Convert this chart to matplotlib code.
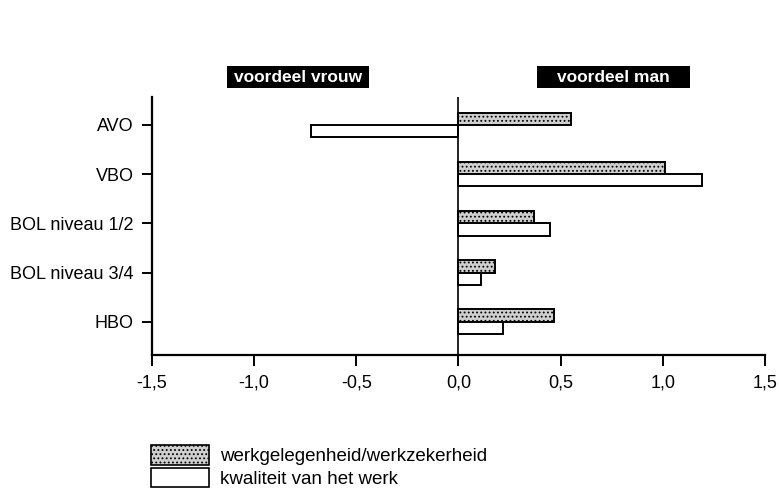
import matplotlib.pyplot as plt
from matplotlib.patches import Patch, Rectangle

plt.rcParams['font.family'] = ['Liberation Sans', 'DejaVu Sans']
plt.rcParams['hatch.color'] = '#7a7a7a'
plt.rcParams['hatch.linewidth'] = 0.8

categories = ['AVO', 'VBO', 'BOL niveau 1/2', 'BOL niveau 3/4', 'HBO']
werkgelegenheid = [0.55, 1.01, 0.37, 0.18, 0.47]
kwaliteit = [-0.72, 1.19, 0.45, 0.11, 0.22]
xticks = [-1.5, -1.0, -0.5, 0.0, 0.5, 1.0, 1.5]
series_labels = ['werkgelegenheid/werkzekerheid', 'kwaliteit van het werk']

grey = '#cfcfcf'
bar_h = 0.25

fig = plt.figure(figsize=(7.79, 4.99), dpi=100)
ax = fig.add_axes([0.195, 0.289, 0.787, 0.517])

ypos = list(range(len(categories)))
ax.barh([y - bar_h / 2 for y in ypos], werkgelegenheid, height=bar_h,
        color=grey, edgecolor='black', linewidth=1.4, hatch='....')
ax.barh([y + bar_h / 2 for y in ypos], kwaliteit, height=bar_h,
        color='white', edgecolor='black', linewidth=1.4)

ax.axvline(0, color='black', linewidth=1.2)

ax.set_xlim(-1.5, 1.5)
ax.set_ylim(4.67, -0.57)
ax.set_yticks(ypos)
ax.set_yticklabels(categories, fontsize=13)
ax.set_xticks(xticks)
ax.set_xticklabels([f'{v:.1f}'.replace('.', ',') for v in xticks], fontsize=13)
ax.tick_params(axis='x', length=8, width=1.4, pad=6)
ax.tick_params(axis='y', length=7, width=1.4, pad=6)

for side in ['top', 'right']:
    ax.spines[side].set_visible(False)
for side in ['left', 'bottom']:
    ax.spines[side].set_linewidth(1.6)

# black header boxes above each half of the chart
W, H = 779, 499
for x0, x1, label in [(227, 369, 'voordeel vrouw'), (537, 690, 'voordeel man')]:
    fig.add_artist(Rectangle((x0 / W, 1 - 88 / H), (x1 - x0) / W, 22 / H,
                             transform=fig.transFigure, facecolor='black', edgecolor='none'))
    fig.text((x0 + x1) / 2 / W, 1 - 77 / H, label, color='white', fontsize=12.5,
             fontweight='bold', ha='center', va='center')

handles = [Patch(facecolor=grey, edgecolor='black', hatch='....', linewidth=1.2),
           Patch(facecolor='white', edgecolor='black', linewidth=1.2)]
fig.legend(handles, series_labels, loc='lower left', bbox_to_anchor=(0.172, -0.012),
           frameon=False, fontsize=13.5, handlelength=3.1, handleheight=1.2,
           labelspacing=0.15, handletextpad=0.6)

fig.savefig('out.png', dpi=100)
